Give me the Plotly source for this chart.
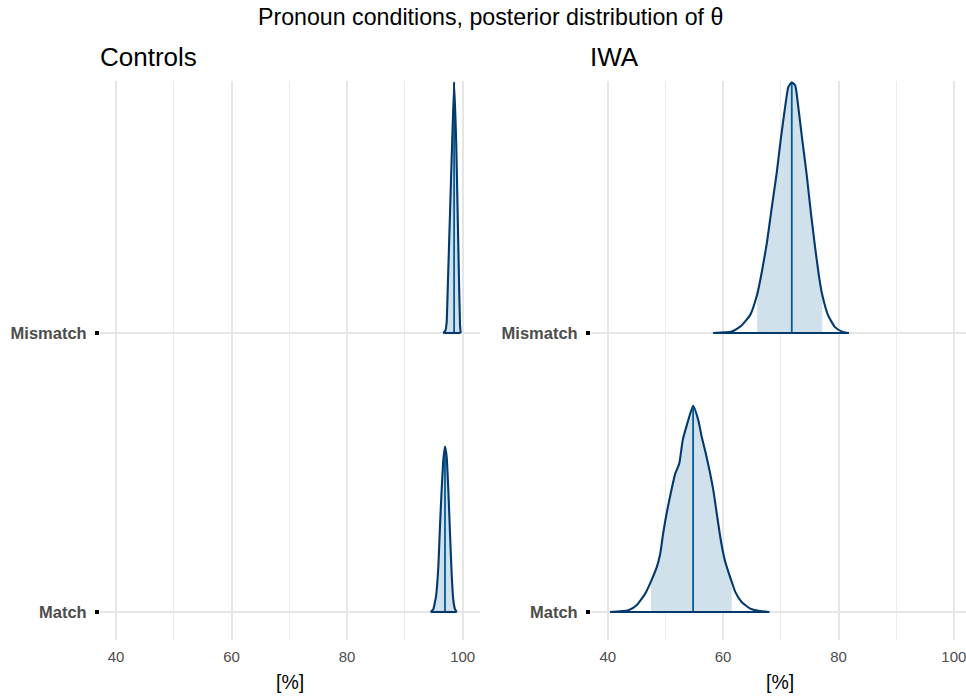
import numpy as np
import plotly.graph_objects as go

# ---------------- data ----------------
conditions = ["Match", "Mismatch"]          # rows, bottom to top
row_pos = {"Match": 1, "Mismatch": 2}
groups = ["Controls", "IWA"]

# Posterior densities of theta [%]; heights in row units (scaled per panel)
ctrl_match_x = [94.46, 94.92, 95.38, 95.79, 96.07, 96.36, 96.65, 96.94, 97.23, 97.52, 97.81, 98.09, 98.38, 98.67, 98.96]
ctrl_match_h = [0.0, 0.010, 0.055, 0.162, 0.306, 0.437, 0.545, 0.593, 0.557, 0.437, 0.282, 0.139, 0.043, 0.010, 0.0]

ctrl_mismatch_x = [96.65, 97.00, 97.23, 97.48, 97.83, 98.18, 98.52, 98.88, 99.12, 99.35, 99.54, 99.65]
ctrl_mismatch_h = [0.0, 0.008, 0.038, 0.205, 0.444, 0.683, 0.899, 0.683, 0.444, 0.205, 0.030, 0.0]

iwa_match_x = [40.4, 43.6, 45.0, 46.5, 47.5, 48.5, 49.1, 49.6, 50.2, 50.9, 51.7, 52.4, 53.0, 53.8, 54.8,
               55.7, 56.3, 57.0, 57.7, 58.3, 58.9, 59.6, 60.3, 61.2, 61.5, 62.1, 63.2, 64.7, 66.1, 68.0]
iwa_match_h = [0.0, 0.006, 0.024, 0.066, 0.110, 0.161, 0.209, 0.281, 0.353, 0.424, 0.496, 0.532, 0.616, 0.676, 0.739,
               0.687, 0.627, 0.568, 0.502, 0.437, 0.353, 0.257, 0.185, 0.126, 0.108, 0.072, 0.036, 0.012, 0.004, 0.0]

iwa_mismatch_x = [58.3, 61.5, 63.2, 64.7, 65.9, 66.7, 67.6, 68.4, 69.3, 70.0, 70.7, 71.3, 71.9, 72.5, 73.0,
                  73.7, 74.5, 75.2, 75.9, 76.6, 77.2, 78.2, 79.4, 80.6, 81.8]
iwa_mismatch_h = [0.0, 0.005, 0.027, 0.065, 0.138, 0.218, 0.325, 0.445, 0.576, 0.696, 0.803, 0.881, 0.899, 0.887, 0.815,
                  0.696, 0.565, 0.433, 0.314, 0.206, 0.135, 0.063, 0.021, 0.005, 0.0]

# inner (shaded) credible interval and median
ctrl_match_interval = [95.0, 98.5]
ctrl_mismatch_interval = [97.1, 99.5]
iwa_match_interval = [47.5, 61.5]
iwa_mismatch_interval = [65.9, 77.2]
ctrl_medians = [96.94, 98.52]
iwa_medians = [54.8, 71.9]

x_ticks = [40, 60, 80, 100]

dens = {
    ("Controls", "Match"): (ctrl_match_x, ctrl_match_h, ctrl_match_interval, ctrl_medians[0]),
    ("Controls", "Mismatch"): (ctrl_mismatch_x, ctrl_mismatch_h, ctrl_mismatch_interval, ctrl_medians[1]),
    ("IWA", "Match"): (iwa_match_x, iwa_match_h, iwa_match_interval, iwa_medians[0]),
    ("IWA", "Mismatch"): (iwa_mismatch_x, iwa_mismatch_h, iwa_mismatch_interval, iwa_medians[1]),
}

# ---------------- styling ----------------
W, H = 966, 696
FONT = "Liberation Sans"
C_OUTLINE = "#03396c"
C_FILL = "#d1e1ec"
C_MED = "#005b96"
GRID = "#e6e6e6"

fig = go.Figure()

for gi, g in enumerate(groups):
    xa = "x" if gi == 0 else "x2"
    ya = "y" if gi == 0 else "y2"
    smooth = 0.5 if g == "IWA" else 0.3
    for cond in conditions:
        X, Hh, (lo, hi), med = dens[(g, cond)]
        X = np.array(X, float)
        Hh = np.array(Hh, float)
        b = row_pos[cond]
        # shaded inner interval: baseline trace, then curve filled to it
        mask = (X > lo) & (X < hi)
        xs = np.concatenate([[lo], X[mask], [hi]])
        hs = np.interp(xs, X, Hh)
        fig.add_trace(go.Scatter(x=xs, y=np.full(len(xs), b), xaxis=xa, yaxis=ya, mode="lines",
                                 line=dict(width=0), hoverinfo="skip", showlegend=False))
        fig.add_trace(go.Scatter(x=xs, y=b + hs, xaxis=xa, yaxis=ya, mode="lines",
                                 fill="tonexty", fillcolor=C_FILL,
                                 line=dict(width=0, shape="spline", smoothing=smooth),
                                 hoverinfo="skip", showlegend=False))
        # median line
        hm = float(np.interp(med, X, Hh))
        fig.add_trace(go.Scatter(x=[med, med], y=[b, b + hm], xaxis=xa, yaxis=ya, mode="lines",
                                 line=dict(color=C_MED, width=1.8), hoverinfo="skip", showlegend=False))
        # outline curve
        fig.add_trace(go.Scatter(x=X, y=b + Hh, xaxis=xa, yaxis=ya, mode="lines",
                                 line=dict(color=C_OUTLINE, width=2.1, shape="spline", smoothing=smooth),
                                 name=f"{g} {cond}", showlegend=False))
        # baseline of the outer area
        fig.add_trace(go.Scatter(x=[X[0], X[-1]], y=[b, b], xaxis=xa, yaxis=ya, mode="lines",
                                 line=dict(color=C_OUTLINE, width=2.1), hoverinfo="skip", showlegend=False))

def xaxis_common(dom, rng):
    return dict(domain=dom, range=rng, tickvals=x_ticks, ticktext=[str(v) for v in x_ticks],
                showgrid=True, gridcolor=GRID, gridwidth=1.5, zeroline=False, showline=False,
                ticks="", ticklabelstandoff=6, ticklabeloverflow="allow",
                tickfont=dict(family=FONT, size=15, color="#4d4d4d"),
                minor=dict(tickvals=[50, 70, 90], showgrid=True, gridcolor="#ececec", gridwidth=1.2),
                fixedrange=True)

def yaxis_common(anchor):
    return dict(domain=[1 - 640 / H, 1 - 81 / H], range=[1 - 28 / 279, 2 + 252 / 279],
                anchor=anchor, tickvals=[row_pos[c] for c in conditions], ticktext=conditions,
                showgrid=True, gridcolor=GRID, gridwidth=1.5, zeroline=False, showline=False,
                ticks="outside", ticklen=4, tickwidth=3.5, tickcolor="black", ticklabelstandoff=5,
                tickfont=dict(family=FONT + ", Arial", size=16.5, color="#4d4d4d", weight="bold"),
                fixedrange=True)

fig.update_layout(
    width=W, height=H, margin=dict(l=0, r=0, t=0, b=0),
    plot_bgcolor="white", paper_bgcolor="white",
    font=dict(family=FONT),
    xaxis=dict(anchor="y", **xaxis_common([100 / W, 480 / W], [37.23, 103.0])),
    xaxis2=dict(anchor="y2", **xaxis_common([591 / W, 1.0], [37.1, 102.1])),
    yaxis=yaxis_common("x"),
    yaxis2=yaxis_common("x2"),
)

ann = [
    dict(text="Pronoun conditions, posterior distribution of θ", x=490 / W, y=1 - 17 / H,
         xanchor="center", yanchor="middle", font=dict(size=23.2, color="black")),
    dict(text="Controls", x=98 / W, y=1 - 57 / H, xanchor="left", yanchor="middle",
         font=dict(size=26, color="black")),
    dict(text="IWA", x=588 / W, y=1 - 57 / H, xanchor="left", yanchor="middle",
         font=dict(size=26, color="black")),
    dict(text="[%]", x=290 / W, y=1 - 682 / H, xanchor="center", yanchor="middle",
         font=dict(size=19.5, color="black")),
    dict(text="[%]", x=780 / W, y=1 - 682 / H, xanchor="center", yanchor="middle",
         font=dict(size=19.5, color="black")),
]
for a in ann:
    a.update(xref="paper", yref="paper", showarrow=False)
    a["font"]["family"] = FONT
fig.update_layout(annotations=ann)

fig.write_html("out.html")
